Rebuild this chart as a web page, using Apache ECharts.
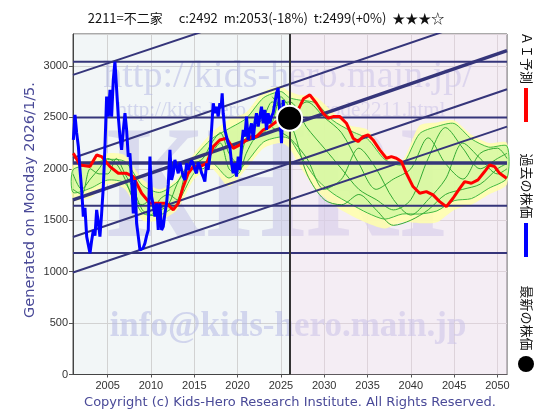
<!DOCTYPE html>
<html><head><meta charset="utf-8">
<script src="https://cdn.jsdelivr.net/npm/echarts@6/dist/echarts.min.js"></script>
<style>html,body{margin:0;padding:0;background:#fff}#c{width:560px;height:420px}</style>
</head><body><div id="c"></div>
<script>
const xMin = 2001, xMax = 2051.1, yMax = 3310;
const tickYears = [2005,2010,2015,2020,2025,2030,2035,2040,2045,2050];
const currentPoint = [2026.0, 2492];
const titleText = '2211=不二家\u3000 c:2492  m:2053(-18%)  t:2499(+0%)  ★★★☆';

const hLevels = [3040, 2499, 2055, 1640, 1180];
const hThick  = [false, false, true, false, false];
const trendX = [2001, 2051.1];
const trendStart = [2913, 2105, 1697, 1337, 992];
const trendEnd   = [4323, 3544, 3149, 2773, 2410];
const trendThick = [false, false, true, false, false];

const pastPrice = [
[2001.04,2280],[2001.23,2523],[2001.42,2350],[2001.62,2215],[2001.8,2000],[2002.0,1794],[2002.19,1535],[2002.38,1620],[2002.58,1340],[2002.77,1260],[2002.96,1178],[2003.15,1300],[2003.35,1405],[2003.54,1350],[2003.73,1600],[2003.92,1480],[2004.11,1340],[2004.3,1560],[2004.5,1826],[2004.69,2215],[2004.88,2702],[2005.08,2507],[2005.27,2767],[2005.46,2507],[2005.65,2864],[2005.84,3042],[2006.04,2767],[2006.23,2507],[2006.42,2313],[2006.61,2183],[2006.81,2377],[2007.0,2540],[2007.19,2377],[2007.38,2118],[2007.57,2150],[2007.77,1891],[2007.96,1567],[2008.15,1891],[2008.34,1470],[2008.54,1340],[2008.73,1210],[2008.92,1194],[2009.1,1230],[2009.3,1275],[2009.5,1350],[2009.69,1405],[2009.88,2118],[2010.07,1729],[2010.26,1650],[2010.46,1535],[2010.65,1664],[2010.84,1405],[2011.03,1664],[2011.23,1405],[2011.42,1437],[2011.6,1560],[2011.8,1664],[2012.0,1850],[2012.19,2183],[2012.38,1891],[2012.57,1956],[2012.76,2086],[2012.96,2021],[2013.15,1956],[2013.34,2060],[2013.53,1989],[2013.73,1924],[2013.92,1891],[2014.11,2053],[2014.3,1989],[2014.49,1989],[2014.68,2080],[2014.88,2053],[2015.07,1990],[2015.26,1956],[2015.45,2060],[2015.65,2021],[2015.84,1960],[2016.03,1924],[2016.22,1875],[2016.42,2053],[2016.6,1990],[2016.8,2118],[2016.99,2377],[2017.19,2637],[2017.38,2540],[2017.57,2604],[2017.76,2507],[2017.95,2637],[2018.1,2600],[2018.22,2734],[2018.34,2540],[2018.53,2377],[2018.72,2313],[2018.9,2250],[2019.11,2215],[2019.3,2053],[2019.49,1956],[2019.68,2053],[2019.88,1924],[2020.07,2118],[2020.26,1989],[2020.45,2215],[2020.65,2377],[2020.84,2313],[2021.03,2507],[2021.22,2280],[2021.42,2377],[2021.61,2442],[2021.8,2280],[2021.99,2442],[2022.18,2540],[2022.38,2410],[2022.57,2507],[2022.76,2604],[2022.95,2442],[2023.14,2572],[2023.34,2377],[2023.53,2540],[2023.72,2442],[2023.91,2507],[2024.1,2540],[2024.3,2637],[2024.49,2734],[2024.68,2783],[2024.87,2540],[2025.07,2248],[2025.26,2669],[2025.45,2442],[2025.64,2540],[2025.84,2572],[2026.0,2492]
];

const aiForecast = [
[2001.04,2151],[2001.81,2037],[2002.96,2021],[2003.73,2134],[2004.31,2118],[2005.27,2021],[2006.23,1956],[2007.19,1956],[2007.96,1924],[2008.92,1762],[2009.88,1664],[2011.03,1664],[2011.8,1664],[2012.57,1600],[2013.15,1664],[2013.73,1826],[2014.3,1956],[2014.88,2021],[2015.65,2021],[2016.42,2053],[2017.19,2215],[2017.95,2280],[2018.72,2297],[2019.49,2199],[2020.26,2232],[2021.03,2280],[2021.61,2313],[2022.18,2313],[2022.95,2377],[2023.72,2410],[2024.49,2459],[2025.26,2491],[2026.03,2501],[2026.99,2572],[2027.6,2680],[2028.34,2718],[2029.1,2637],[2029.87,2540],[2030.45,2491],[2031.03,2507],[2031.8,2507],[2032.56,2443],[2033.33,2297],[2033.9,2264],[2034.49,2313],[2035.06,2329],[2035.64,2280],[2036.41,2183],[2037.18,2102],[2037.75,2118],[2038.33,2102],[2038.91,2070],[2039.48,1956],[2040.25,1827],[2041.02,1762],[2041.79,1778],[2042.56,1746],[2043.33,1681],[2044.1,1632],[2044.87,1713],[2045.64,1810],[2046.21,1875],[2046.98,1859],[2047.75,1892],[2048.52,1973],[2049.1,2037],[2049.67,2021],[2050.25,1956],[2051.05,1908]
];

const bandYears   = [2001,2003,2005,2007,2009,2011,2013,2015,2017,2019,2021,2023,2025,2026,2027,2029,2031,2033,2035,2037,2039,2041,2043,2045,2047,2049,2051.1];
const yellowUpper = [2050,2080,2150,2130,1900,1800,1900,2150,2350,2480,2550,2750,2800,2750,2720,2700,2550,2420,2380,2150,2080,2420,2450,2470,2330,2250,2250];
const yellowLower = [1700,1720,1850,1800,1500,1500,1600,1900,2000,1830,2000,2200,2250,2200,2050,1800,1650,1550,1470,1420,1480,1470,1480,1600,1650,1750,1850];
const greenUpper  = [1990,2040,2090,2070,1840,1770,1870,2110,2290,2390,2490,2690,2750,2690,2670,2640,2470,2370,2290,2090,2040,2340,2410,2440,2290,2210,2220];
const greenLower  = [1770,1810,1890,1860,1570,1550,1660,1960,2060,1910,2060,2260,2310,2290,2160,1910,1760,1660,1570,1510,1560,1560,1590,1690,1710,1810,1910];

const pathYearsPast = [2001,2002,2003,2004,2005,2006,2007,2008,2009,2010,2011,2012,2013,2014,2015,2016,2017,2018,2019,2020,2021,2022,2023,2024,2025,2026];
const pathPast1 = [1950,1800,1900,2000,2100,2050,1900,1700,1650,1700,1600,1650,1850,2000,2050,2100,2250,2350,2150,2050,2300,2400,2500,2650,2600,2500];
const pathPast2 = [1800,1750,2000,1950,1950,2100,1950,1800,1600,1550,1700,1750,1700,1950,2000,2000,2150,2250,2000,1950,2150,2300,2350,2450,2700,2600];
const pathYearsFut = [2024,2026,2028,2030,2032,2034,2036,2038,2040,2042,2044,2046,2048,2050,2051.1];
const pathFut1 = [2600,2650,2400,2200,2000,1800,1700,1600,1700,2100,2400,2200,2000,2100,2150];
const pathFut2 = [2400,2300,2100,1800,1900,2200,2000,1700,1550,1700,1900,2250,2100,1950,2000];
const pathFut3 = [2700,2550,2650,2500,2350,2050,1800,1900,2000,2300,2050,1900,2150,2200,2100];
const pathFut4 = [2500,2450,1950,1700,1650,1750,1600,1450,1500,1600,1750,1800,1850,2000,2050];

function zip(xs, ys){ return xs.map((x,i)=>[x, ys[i]]); }
function bandRender(upper, lower, fill, stroke){
  return function(params, api){
    const pts = [];
    for (let i=0;i<bandYears.length;i++) pts.push(api.coord([bandYears[i], upper[i]]));
    for (let i=bandYears.length-1;i>=0;i--) pts.push(api.coord([bandYears[i], lower[i]]));
    return {type:'polygon', shape:{points:pts, smooth:0.25}, style:{fill:fill, stroke:stroke, lineWidth:1}};
  };
}

const series = [];
series.push({type:'line', data:[], z:0, silent:true,
  markArea:{silent:true, itemStyle:{color:'rgba(248,214,238,0.3)'}, data:[[{xAxis:currentPoint[0]},{xAxis:xMax}]]}
});
series.push({type:'custom', z:2, silent:true, data:[[bandYears[0], yellowLower[0]]],
  renderItem: bandRender(yellowUpper, yellowLower, 'rgba(255,255,170,0.85)', 'rgba(0,0,0,0)')});
series.push({type:'custom', z:2, silent:true, data:[[bandYears[0], greenLower[0]]],
  renderItem: bandRender(greenUpper, greenLower, 'rgba(185,245,150,0.5)', '#44bb44')});
[[pathYearsPast,pathPast1],[pathYearsPast,pathPast2],[pathYearsFut,pathFut1],[pathYearsFut,pathFut2],[pathYearsFut,pathFut3],[pathYearsFut,pathFut4]].forEach(function(p){
  series.push({type:'line', z:2, silent:true, data:zip(p[0],p[1]), symbol:'none', smooth:0.3,
    lineStyle:{color:'#33aa33', width:1}});
});
hLevels.forEach(function(v,i){
  series.push({type:'line', z:3, silent:true, data:[[xMin,v],[xMax,v]], symbol:'none',
    lineStyle:{color:'#35357a', width:hThick[i]?3.5:2}});
});
trendStart.forEach(function(v,i){
  series.push({type:'line', z:3, silent:true, data:[[trendX[0],v],[trendX[1],trendEnd[i]]], symbol:'none',
    lineStyle:{color:'#35357a', width:trendThick[i]?3.5:2}});
});
series.push({type:'line', z:3, silent:true, data:[], markLine:{silent:true, symbol:['none','none'], label:{show:false},
  lineStyle:{color:'#333', width:2, type:'solid'}, data:[{xAxis:currentPoint[0]}]}});
series.push({type:'line', z:4, silent:true, data:aiForecast, symbol:'none', lineStyle:{color:'#ff0000', width:3}});
series.push({type:'line', z:5, silent:true, data:pastPrice, symbol:'none', lineStyle:{color:'#0000ff', width:3}});
series.push({type:'scatter', z:8, silent:true, data:[currentPoint], symbolSize:25,
  itemStyle:{color:'#000', borderColor:'#fff', borderWidth:2, opacity:1}});

const wm = 'rgba(175,180,228,0.5)';
const option = {
  animation:false,
  backgroundColor:'#fff',
  grid:{left:73, right:53, top:34, bottom:45.5, show:true, backgroundColor:'#f2f6f7', borderColor:'#555', borderWidth:1},
  xAxis:{type:'value', min:xMin, max:xMax,
    axisLine:{show:true, lineStyle:{color:'#444'}},
    axisTick:{show:true, length:3, customValues:tickYears, lineStyle:{color:'#555'}},
    axisLabel:{customValues:tickYears, color:'#333', fontSize:11, fontFamily:'Liberation Sans', margin:6, formatter:function(v){return String(v);}},
    splitLine:{show:true, lineStyle:{color:'#d2d2d2', width:1}}},
  yAxis:{type:'value', min:0, max:yMax, interval:500,
    axisLine:{show:true, lineStyle:{color:'#444'}},
    axisTick:{show:true, length:4, lineStyle:{color:'#555'}},
    axisLabel:{color:'#333', fontSize:11, fontFamily:'Liberation Sans', margin:5, showMaxLabel:false, formatter:function(v){return String(v);}},
    splitLine:{show:true, lineStyle:{color:'#d2d2d2', width:1}}},
  graphic:[
    {type:'text', z:1, silent:true, x:277, y:195, scaleX:0.8, style:{text:'KHRI', font:'bold 160px "Liberation Serif"', fill:'rgba(200,200,232,0.6)', textAlign:'center', textVerticalAlign:'middle'}},
    {type:'text', z:1, silent:true, x:288, y:77, style:{text:'http://kids-hero.main.jp/', font:'38px "Liberation Serif"', fill:wm, textAlign:'center', textVerticalAlign:'middle'}},
    {type:'text', z:1, silent:true, x:281, y:110, style:{text:'http://kids-hero.main.jp/code2211.html', font:'21px "Liberation Serif"', fill:wm, textAlign:'center', textVerticalAlign:'middle'}},
    {type:'text', z:1, silent:true, x:288, y:327, style:{text:'info@kids-hero.main.jp', font:'bold 35px "Liberation Serif"', fill:wm, textAlign:'center', textVerticalAlign:'middle'}},
    {type:'text', x:266, y:18, style:{text:titleText, font:'13px "Noto Sans CJK JP"', fill:'#111', textAlign:'center', textVerticalAlign:'middle'}},
    {type:'text', x:30, y:200, rotation:Math.PI/2, style:{text:'Generated on Monday 2026/1/5.', font:'14.5px "DejaVu Sans"', fill:'#4a4a98', textAlign:'center', textVerticalAlign:'middle'}},
    {type:'text', x:290, y:403, style:{text:'Copyright (c) Kids-Hero Research Institute. All Rights Reserved.', font:'13px "DejaVu Sans"', fill:'#4a4a98', textAlign:'center', textVerticalAlign:'middle'}},
    {type:'text', x:527, y:58, rotation:-Math.PI/2, style:{text:'ＡＩ予測', font:'13px "Noto Sans CJK JP"', fill:'#111', textAlign:'center', textVerticalAlign:'middle'}},
    {type:'rect', shape:{x:524, y:88, width:4, height:34}, style:{fill:'#ff0000'}},
    {type:'text', x:527, y:186, rotation:-Math.PI/2, style:{text:'過去の株価', font:'13px "Noto Sans CJK JP"', fill:'#111', textAlign:'center', textVerticalAlign:'middle'}},
    {type:'rect', shape:{x:524, y:223, width:4, height:34}, style:{fill:'#0000ff'}},
    {type:'text', x:527, y:318, rotation:-Math.PI/2, style:{text:'最新の株価', font:'13px "Noto Sans CJK JP"', fill:'#111', textAlign:'center', textVerticalAlign:'middle'}},
    {type:'circle', shape:{cx:526, cy:364, r:8}, style:{fill:'#000'}}
  ],
  series:series
};
const chart = echarts.init(document.getElementById('c'), null, {renderer:'canvas'});
chart.setOption(option);
</script></body></html>
